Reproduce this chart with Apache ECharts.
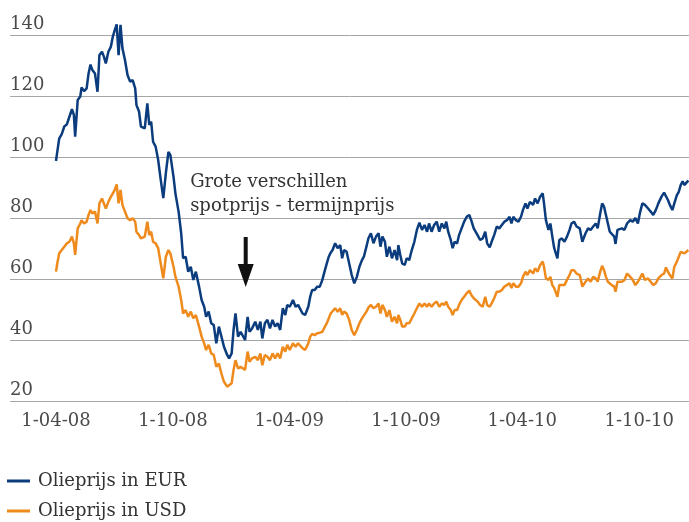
<!DOCTYPE html>
<html><head><meta charset="utf-8">
<script src="https://cdn.jsdelivr.net/npm/echarts@6/dist/echarts.min.js"></script>
<style>html,body{margin:0;padding:0;background:#fff}#c{width:689px;height:522px}</style>
</head><body><div id="c"></div>
<script>
// Data
const startDate = '2008-04-01';
const dayOffsets = [
0,2,5,9,13,17,21,25,28,30,
34,38,40,44,48,51,54,57,61,65,
68,72,75,78,82,86,89,92,95,98,
101,104,108,112,116,120,124,126,130,133,
136,139,143,146,149,152,156,160,164,168,
172,176,179,184,187,192,196,199,203,207,
211,215,219,224,228,232,235,239,243,247,
251,255,259,263,268,271,275,278,281,285,
289,292,296,300,303,307,312,316,320,323,
327,331,335,339,343,347,351,355,359,362,
366,371,375,379,382,386,390,395,398,401,
405,409,413,417,421,424,427,430,433,437,
441,445,448,451,455,459,463,467,471,475,
479,482,486,489,493,497,501,505,508,511,
515,518,522,526,530,534,536,539,542,546,
549,553,557,561,565,569,573,577,581,584,
588,592,596,600,604,608,611,614,618,621,
624,628,631,635,639,643,647,650,654,656,
660,664,668,672,675,679,682,686,690,694,
698,702,706,710,713,716,720,724,728,731,
735,738,742,747,750,754,758,762,764,767,
771,774,777,780,783,785,788,792,796,800,
804,807,811,815,820,824,829,833,837,841,
845,848,852,855,858,861,864,867,870,874,
876,879,882,886,890,894,899,903,907,911,
914,918,922,927,931,935,939,943,948,952,
955,958,961,965,968,972,975,978,981,984,
987,990];
const eurValues = [
98.7,101.7,106,107.5,110,110.7,113.2,115.7,113.8,106.7,
118.7,119.8,122.8,121.6,122.5,127.4,130.3,128.5,127.4,121.4,
133.4,134.5,132.9,130.7,134.5,136.2,139.5,141.6,143.5,133.4,
143.3,135.7,131.8,126.9,124.7,125.2,122.5,117,114.9,110,
110.5,109.4,117.6,110.5,111.6,105,103.4,99,92.5,86.5,
94.7,101.7,100.7,93.5,88,82,75,66.8,67.3,62.4,
64,59.7,62.4,57.5,53.1,50.9,47.6,49.3,45.5,44.9,
38.9,44.4,41.1,37.8,35.1,34,35.6,43.3,48.7,41.1,
42.7,43.3,40,47.6,42.7,43.8,46,43.3,46,40.5,
45.5,46.6,43.8,46.6,44.4,45.5,43.3,50.4,48.2,51.5,
50.9,53.1,50.9,51.5,51.5,48.7,48.2,50.9,54.2,56.4,
56.4,57.5,57.5,59.7,62.9,65.1,67.3,68.6,69.5,71.7,
70.1,71.1,66.8,69.5,68.9,65.1,61.3,58.6,60.7,64,
66.2,67.3,70.6,73.3,75,71.7,73.9,75,70.6,73.9,
72.2,67.3,70.6,66.8,69.5,66.2,71.1,67.9,65.1,64.6,
66.8,66.2,69.5,72.2,76.1,78.5,76.1,77.7,75.5,78.2,
75.5,77.7,78.8,75.5,78.2,76.6,78.8,75.5,72.8,70.1,
72.2,71.7,74.4,76.6,78.8,80.4,81,79.3,76.6,76.6,
74.4,72.8,73.3,75.5,71.7,70.4,72.2,74.4,77.2,76.6,
77.7,78.8,79.3,80.4,78.2,80.4,79.3,78.8,80.4,82.6,
84.8,83.1,85.3,84.3,86.4,84.8,87,88.1,84.8,79.3,
76.1,78.2,73.9,70.1,69.5,66.8,72.8,73.3,72.2,73.9,
76.1,78.2,78.8,77.2,76.6,72.2,75,76.6,76.1,77.2,
78.2,76.6,81.5,84.8,83.7,81,78.2,75.5,75,73.9,
71.5,76.1,75.5,76.6,76.1,78.2,79.3,78.8,80,78.2,
81.5,84.8,84.3,83.1,82.1,81,82.6,84.8,87,88.3,
88.1,85.9,84.3,82.6,84.8,87.5,88.6,90.8,92,90.8,
91.6,92.3];
const usdValues = [
62.4,65.1,68.4,69.5,70.6,71.7,72.2,73.9,71.7,67.9,
76.6,78.2,79.3,78.2,78.8,81,82.6,81.5,82.1,78.2,
84.8,86.4,85.9,83.1,85.3,87,88.1,89.2,91,84.8,
89.2,84.3,82.1,79.9,79.3,79.9,78.8,75.5,74.4,73.3,
73.9,73.9,78.8,74.4,75.5,72.2,71.7,70.1,65.1,60.2,
67.3,69.5,68.4,64,60.7,57.5,53.1,48.7,49.8,47.6,
49.3,47.1,48.2,44.4,41.1,38.9,36.7,38.4,35.6,35.1,
31.2,32.3,29,26.3,24.7,24.1,25.8,30.2,33.4,30.7,
31.2,30.7,30.2,36.2,32.9,34,34.5,33.4,35.6,31.7,
35.1,34.5,33.4,35.6,34,35.6,34,37.8,36.2,38.4,
36.7,38.9,37.8,38.9,38.9,37.3,36.7,38.9,41.1,42,
41.6,42.2,42.4,42.7,44.4,45.5,47.1,48.7,49.3,50.4,
49.3,50.4,48.2,49.3,48.7,46.6,43.3,41.6,43.3,45.5,
47.1,47.6,49.3,50.6,51.5,50.4,50.9,52,48.7,51.5,
49.8,47.6,49.8,46,47.6,45.5,48.2,46.6,44.4,44.4,
45.5,45.5,47.1,48.7,50.4,52,50.9,52,50.9,52,
50.9,52,52.6,50.9,52,51.5,52.6,50.9,49.8,48.2,
49.8,49.8,51.5,53.1,54.2,55.3,56.2,54.8,53.7,53.1,
52.6,51.5,50.9,54.2,51.5,50.9,52,53.7,55.8,55.8,
56.4,57.5,58,58.6,57,58.6,57.5,57.5,58.6,60.7,
62.4,61.3,62.9,61.8,63.5,62.4,64.6,65.7,64,60.2,
59.7,60.7,58,57,56.4,54.2,58,58,58,59.7,
61.3,62.9,62.9,61.8,61.3,57.5,59.1,60.2,59.1,60.7,
60.2,59.1,62.4,64.3,62.9,60.7,59.1,59.1,58,57.5,
55.8,59.1,58.6,59.1,59.7,61.8,60.7,59.7,58,59.1,
60.2,61.8,59.7,60.2,59.1,58,58.6,60.2,61.3,61.8,
63.8,62.4,61.3,60.2,64,65.7,67.3,68.9,68.6,68.4,
68.9,69.5];
const xTickDates = ['2008-04-01','2008-10-01','2009-04-01','2009-10-01','2010-04-01','2010-10-01'];
const xTickLabels = ['1-04-08','1-10-08','1-04-09','1-10-09','1-04-10','1-10-10'];
const seriesNames = ['Olieprijs in EUR','Olieprijs in USD'];
const annotationLines = ['Grote verschillen','spotprijs - termijnprijs'];

const FONT = 'DejaVu Serif';
function ts(s){const p=s.split('-');return Date.UTC(+p[0],+p[1]-1,+p[2]);}
const DAY = 86400000;
const t0 = ts(startDate);
const eurData = dayOffsets.map((d,i)=>[t0+d*DAY, eurValues[i]]);
const usdData = dayOffsets.map((d,i)=>[t0+d*DAY, usdValues[i]]);
const tickTs = xTickDates.map(ts);

const chart = echarts.init(document.getElementById('c'), null, {renderer:'canvas'});
const option = {
  animation:false,
  backgroundColor:'#fff',
  grid:{left:10,right:0,top:35,bottom:121,containLabel:false},
  xAxis:{
    type:'value',
    min:ts('2008-01-20'), max:ts('2010-12-18'),
    axisLine:{show:false}, axisTick:{show:false}, splitLine:{show:false},
    axisLabel:{
      customValues:tickTs,
      margin:11,
      fontFamily:FONT, fontSize:18, color:'#4a4a4a',
      formatter:function(v){const i=tickTs.indexOf(v);return i>=0?xTickLabels[i]:'';}
    }
  },
  yAxis:{
    type:'value', min:20, max:140, interval:20,
    axisLine:{show:false}, axisTick:{show:false},
    splitLine:{show:true,lineStyle:{color:'#a6a6a6',width:1}},
    axisLabel:{inside:true, margin:0, align:'left', verticalAlign:'bottom', padding:[0,0,2,0],
      fontFamily:FONT, fontSize:18, color:'#4a4a4a'}
  },
  legend:{
    orient:'vertical', left:7, top:471, height:60, padding:0, icon:'rect', itemWidth:23, itemHeight:3, itemGap:10,
    textStyle:{fontFamily:FONT, fontSize:18, color:'#333', lineHeight:20, padding:[0,0,0,3]},
    data:seriesNames
  },
  series:[
    {name:seriesNames[1], type:'line', data:usdData, showSymbol:false, symbol:'none', clip:false,
     color:'#ef8a1d', lineStyle:{width:2.5,color:'#ef8a1d'}},
    {name:seriesNames[0], type:'line', data:eurData, showSymbol:false, symbol:'none', clip:false,
     color:'#0b3c7d', lineStyle:{width:2.5,color:'#0b3c7d'}}
  ]
};
chart.setOption(option);

// Annotation anchored in data space
const px = (date,v)=>chart.convertToPixel({gridIndex:0},[ts(date),v]);
const tAnchor = px('2008-10-28', 95.7);
const aTop = px('2009-01-23', 73.8);
const aBot = px('2009-01-23', 57.4);
const ax = aTop[0], headH = 23, headW = 8, shaft = 2;
chart.setOption({
  graphic:[
    {type:'text', left:tAnchor[0], top:tAnchor[1], z:10,
     style:{text:annotationLines.join('\n'), font:'18px "DejaVu Serif"', fill:'#333', lineHeight:24}},
    {type:'polygon', z:10, shape:{points:[
      [ax-shaft,aTop[1]],[ax+shaft,aTop[1]],[ax+shaft,aBot[1]-headH],[ax+headW,aBot[1]-headH],
      [ax,aBot[1]],[ax-headW,aBot[1]-headH],[ax-shaft,aBot[1]-headH]]},
     style:{fill:'#111'}}
  ]
});
</script></body></html>
